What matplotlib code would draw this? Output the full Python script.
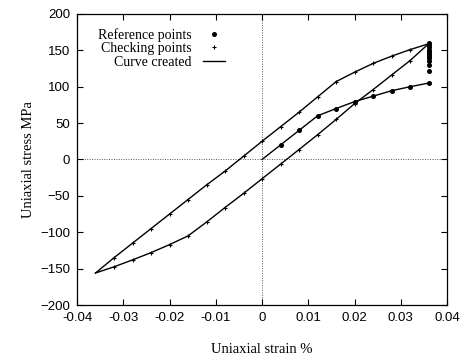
import numpy as np
import matplotlib
matplotlib.use('Agg')
import matplotlib.pyplot as plt

# loading branch: curve created through the reference points
strain_ref = [0.004, 0.008, 0.012, 0.016, 0.020, 0.024, 0.028, 0.032, 0.036]
stress_ref = [20, 40, 60, 70, 79.5, 87, 94.5, 100, 105]
strain_load = [0.0] + strain_ref
stress_load = [0.0] + stress_ref

# extra reference points stacked at the max strain
strain_col = [0.036] * 11
stress_col = [122, 130, 135, 139, 142, 145, 148, 151, 154, 157, 160]

# hysteresis loop, checking points every 0.004
strain_loop = [-0.036, -0.032, -0.028, -0.024, -0.020, -0.016, -0.012, -0.008, -0.004,
               0.0, 0.004, 0.008, 0.012, 0.016, 0.020, 0.024, 0.028, 0.032, 0.036]
stress_upper = [-156, -135, -115, -95, -75, -55, -35, -16, 4.5,
                25, 45, 65, 86, 107, 120, 132, 142, 151, 159]
stress_lower = [-156, -147.5, -138, -128, -117, -105, -86, -66, -46.6,
                -26.5, -6.4, 13.7, 34, 55, 76.7, 96, 116, 136, 159]

serif = 'Liberation Serif'
sans = 'Liberation Sans'

fig = plt.figure(figsize=(4.62, 3.58), dpi=100)
ax = fig.add_axes([0.1667, 0.148, 0.801, 0.813])

ax.axhline(0, color='#555555', lw=0.7, ls=(0, (1, 1.5)), zorder=1)
ax.axvline(0, color='#555555', lw=0.7, ls=(0, (1, 1.5)), zorder=1)

ax.plot(strain_ref, stress_ref, ls='none', marker='o', ms=2.6, color='black',
        label='Reference points')
ax.plot(strain_col, stress_col, ls='none', marker='o', ms=2.6, color='black')
ax.plot(strain_loop[1:-1], stress_upper[1:-1], ls='none', marker='+', ms=3,
        mew=0.8, color='black', label='Checking points')
ax.plot(strain_loop[1:-1], stress_lower[1:-1], ls='none', marker='+', ms=3,
        mew=0.8, color='black')
ax.plot(strain_loop, stress_upper, color='black', lw=1, label='Curve created')
ax.plot(strain_loop, stress_lower, color='black', lw=1)
ax.plot(strain_load, stress_load, color='black', lw=1)

ax.set_xlim(-0.04, 0.04)
ax.set_ylim(-200, 200)
ax.set_xticks(np.arange(-0.04, 0.041, 0.01))
ax.set_xticklabels(['-0.04', '-0.03', '-0.02', '-0.01', '0', '0.01', '0.02', '0.03', '0.04'])
ax.set_yticks(np.arange(-200, 201, 50))
ax.tick_params(direction='in', top=True, right=True, length=4, width=0.8,
               labelsize=9.5, pad=5)
for lab in ax.get_xticklabels() + ax.get_yticklabels():
    lab.set_fontfamily(sans)
for s in ax.spines.values():
    s.set_linewidth(0.9)

ax.set_xlabel('Uniaxial strain %', fontfamily=serif, fontsize=10.5, labelpad=14)
ax.set_ylabel('Uniaxial stress MPa', fontfamily=serif, fontsize=10.5, labelpad=4)

leg = ax.legend(loc='upper left', frameon=False, markerfirst=False,
                prop={'family': serif, 'size': 10}, handlelength=1.6,
                handletextpad=0.8, labelspacing=0.05, borderaxespad=0.6,
                bbox_to_anchor=(0.02, 1.0))
for t in leg.get_texts():
    t.set_ha('right')
    t.set_multialignment('right')

fig.savefig('out.png', dpi=100)
